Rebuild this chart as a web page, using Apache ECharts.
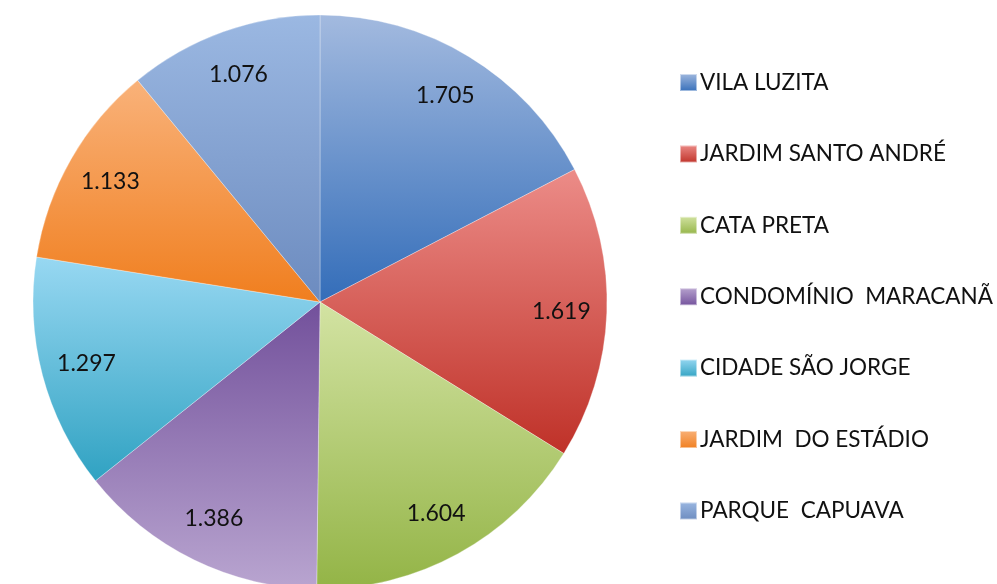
<!DOCTYPE html>
<html>
<head>
<meta charset="utf-8">
<script src="https://cdn.jsdelivr.net/npm/echarts@6/dist/echarts.min.js"></script>
<style>
  html, body { margin: 0; padding: 0; background: #fff; }
  #main { width: 997px; height: 584px; }
</style>
</head>
<body>
<div id="main"></div>
<script>
const bairros = ['VILA LUZITA', 'JARDIM SANTO ANDRÉ', 'CATA PRETA', 'CONDOMÍNIO  MARACANÃ', 'CIDADE SÃO JORGE', 'JARDIM  DO ESTÁDIO', 'PARQUE  CAPUAVA']
const valores = [1.705, 1.619, 1.604, 1.386, 1.297, 1.133, 1.076]
// cor clara (topo) e escura (base) de cada fatia
const coresTopo = ['#a3badf', '#ec8c88', '#d3e3a3', '#72509b', '#98d8f2', '#f9b27a', '#9bb8e2']
const coresBase = ['#336db9', '#bf3128', '#93b446', '#b9a5d0', '#30a2c2', '#f07e1e', '#6c8bbf']

function grad(top, bottom) {
  return new echarts.graphic.LinearGradient(0, 0, 0, 1, [
    { offset: 0, color: top },
    { offset: 1, color: bottom }
  ])
}

let myChart = echarts.init(document.getElementById('main'))

let fatias = bairros.map((nome, i) => ({
  name: nome,
  value: valores[i],
  itemStyle: { color: grad(coresTopo[i], coresBase[i]) }
}))

// legenda: ícone do condomínio vai do claro pro escuro como os outros
let legendaItens = bairros.map((nome, i) => {
  let item = { name: nome }
  if (i === 3) item.itemStyle = { color: grad(coresBase[i], coresTopo[i]) }
  return item
})

let option = {
  animation: false,
  legend: {
    orient: 'vertical',
    left: 674,
    top: 66,
    itemWidth: 17,
    itemHeight: 17,
    itemGap: 48.4,
    icon: 'rect',
    data: legendaItens,
    textStyle: {
      fontFamily: 'Lato',
      fontSize: 22.5,
      color: '#111',
      padding: [0, 0, 0, -2]
    }
  },
  series: [
    {
      name: 'fatias',
      type: 'pie',
      center: [320, 302],
      radius: 287,
      startAngle: 90,
      clockwise: true,
      silent: true,
      label: { show: false },
      labelLine: { show: false },
      itemStyle: { borderColor: 'rgba(255,255,255,0.5)', borderWidth: 0.6 },
      data: fatias
    },
    {
      // série transparente só para posicionar os rótulos perto da borda
      name: 'rotulos',
      type: 'pie',
      center: [320, 302],
      radius: [190, 287],
      startAngle: 90,
      clockwise: true,
      silent: true,
      itemStyle: { color: 'rgba(0,0,0,0)' },
      label: {
        show: true,
        position: 'inside',
        fontFamily: 'Lato',
        fontSize: 23,
        color: '#111',
        formatter: p => p.value.toFixed(3)
      },
      labelLine: { show: false },
      data: bairros.map((nome, i) => ({ name: nome, value: valores[i] }))
    }
  ]
}

myChart.setOption(option)
</script>
</body>
</html>
